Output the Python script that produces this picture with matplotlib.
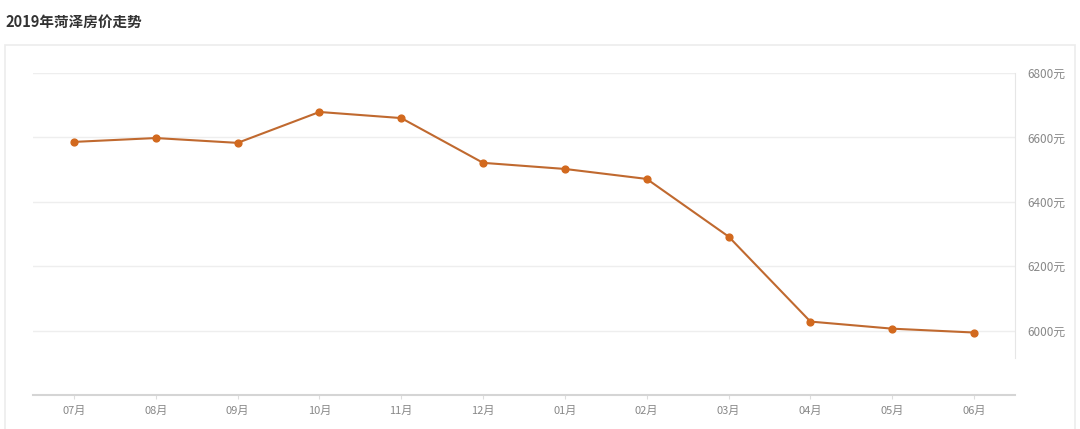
import matplotlib.pyplot as plt
from matplotlib.patches import Rectangle

plt.rcParams['font.family'] = ['Noto Sans CJK SC', 'DejaVu Sans']

months = ['07月', '08月', '09月', '10月', '11月', '12月',
          '01月', '02月', '03月', '04月', '05月', '06月']
prices = [6586, 6598, 6583, 6679, 6660, 6521, 6502, 6471, 6292, 6028, 6006, 5994]
y_ticks = [6000, 6200, 6400, 6600, 6800]
y_labels = ['6000元', '6200元', '6400元', '6600元', '6800元']
title = '2019年菏泽房价走势'

fig = plt.figure(figsize=(10.8, 4.29), dpi=100)

# outer frame of the card
frame = Rectangle((5 / 1080, -0.01), 1070 / 1080, 1 - 45 / 429 + 0.01,
                  transform=fig.transFigure, fill=False,
                  edgecolor='#ececec', linewidth=1.2)
fig.patches.append(frame)

fig.text(5 / 1080, 1 - 22 / 429, title, fontsize=10.5, fontweight='bold',
         color='#333333', va='center', ha='left')

ax = fig.add_axes([33 / 1080, 1 - 395 / 429, (1015 - 33) / 1080, (395 - 73) / 429])

x = range(len(months))
ax.plot(x, prices, color='#c0692f', linewidth=1.5, zorder=3)
ax.scatter(x, prices, s=24, color='#d2691e', zorder=4)

ax.set_xlim(-0.5, 11.5)
ax.set_ylim(5800, 6800)

ax.set_xticks(list(x))
ax.set_xticklabels(months, fontsize=8, color='#888888')
ax.set_yticks(y_ticks)
ax.set_yticklabels(y_labels, fontsize=8.5, color='#888888')
ax.yaxis.tick_right()
ax.tick_params(axis='y', length=0, pad=9)
ax.tick_params(axis='x', length=3, color='#dddddd', pad=5)

ax.grid(axis='y', color='#eeeeee', linewidth=1)
for side in ['top', 'left']:
    ax.spines[side].set_visible(False)
ax.spines['bottom'].set_color('#d5d5d5')
ax.spines['bottom'].set_linewidth(1.5)
ax.spines['right'].set_color('#e6e6e6')
ax.spines['right'].set_bounds(5915, 6800)

fig.savefig('out.png', dpi=100)
